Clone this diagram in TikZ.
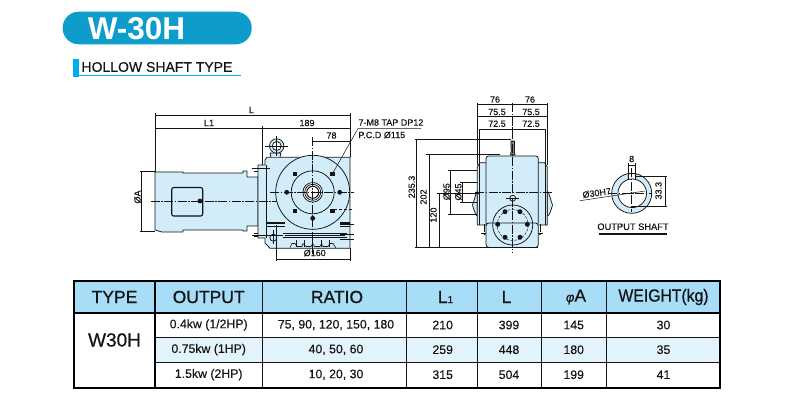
\documentclass[tikz,border=0pt]{standalone}
\usepackage{fontspec}
\setmainfont{Liberation Sans}
\newfontfamily\heavy[FakeBold=0.7]{Liberation Sans}
\newfontfamily\medium[FakeBold=0.25]{Liberation Sans}
\definecolor{pill}{HTML}{0E9DCB}
\definecolor{accent}{HTML}{00AEEF}
\definecolor{hdr}{HTML}{A8DDF7}
\definecolor{rowb}{HTML}{E2F3FC}
\definecolor{body}{HTML}{D2EDF9}
\definecolor{ink}{HTML}{141414}
\tikzset{
  x=1pt,y=-1pt,
  every node/.style={text=ink,inner sep=0pt,outer sep=0pt},
  obj/.style={draw=ink,line width=.75pt,fill=body,line join=round},
  objn/.style={draw=ink,line width=.75pt,line join=round},
  dimline/.style={draw=ink,line width=.5pt},
  centerl/.style={draw=ink,line width=.5pt,dash pattern=on 9pt off 1.5pt on 1.5pt off 1.5pt},
  dimtxt/.style={font=\medium\fontsize{9}{10}\selectfont},
  rdim/.style={font=\medium\fontsize{9}{10}\selectfont,rotate=90},
  hd/.style={font=\heavy\fontsize{17.5}{19}\selectfont},
  cell/.style={font=\medium\fontsize{12.3}{14}\selectfont},
  tline/.style={draw=ink,line width=.6pt},
  tthick/.style={draw=black,line width=1.6pt},
  blt/.style={fill=ink,draw=none},
}
\begin{document}
\begin{tikzpicture}
\useasboundingbox (0,0) rectangle (800,400);
\fill[white] (0,0) rectangle (800,400);
% title
\fill[pill,rounded corners=16pt] (62.7,11.7) rectangle (251.7,44.3);
\node[text=white,font=\fontsize{31.5}{33}\bfseries\selectfont,anchor=center] (title) at (136.5,28.5) {W-30H};
\fill[accent] (73.3,59) rectangle (79.3,76.7);
\draw[accent,line width=.6pt] (79.3,75.7) -- (240.7,75.7);
\node[font=\medium\fontsize{14}{15}\selectfont,anchor=west] (subtitle) at (81.5,67) {HOLLOW SHAFT TYPE};
%
% side view: motor
\draw[obj] (162,232) -- (155,230) -- (155,172) -- (183,172) -- (183,173) -- (243,173) -- (243,171) -- (247,171) -- (247,177) -- (258,177) -- (258,226) -- (247,226) -- (247,231) -- (243,231) -- (243,230) -- (183,230) -- (183,232) -- cycle;
\draw[obj,line width=1.1pt,rounded corners=2pt] (171.7,187.5) rectangle (202.7,216);
\fill[blt] (200,201) circle (2.4);
% side view: gearbox
\draw[obj] (265,160) -- (267,157.3) -- (350,157.3) -- (350,248.3) -- (270,248.3) -- (265,243) -- (265,238) -- (258,238) -- (258,165) -- (265,165) -- cycle;
\draw[objn] (266.7,165) -- (266.7,238);
\draw[objn] (258,168) -- (254,168) (258,171) -- (254,171) (258,233) -- (254,233) (258,236) -- (254,236);
\draw[obj] (271,157) -- (270,153) -- (281,153) -- (280,157);
\draw[obj] (276.7,146) circle (7.2);
\draw[obj,fill=white] (276.7,146) circle (4.5);
\draw[obj] (312.7,192.3) circle (37);
\draw[objn] (312.7,192.3) circle (21.5);
\draw[obj,fill=white] (312.7,192.3) circle (9.8);
\draw[objn] (312.7,192.3) circle (8);
\draw[objn,line width=1pt] (312.7,192.3) circle (6);
\foreach \bx/\by in {295/174,332.3/174,295/211,332.3/211}
  \fill[blt] (\bx-2.3,\by-2.3) rectangle (\bx+2.3,\by+2.3);
\foreach \bx/\by in {286.7/192.3,339.7/192.3,312.7/218.3}
  \fill[blt] (\bx,\by) circle (2.4);
% lower gearbox details
\draw[ink,line width=1.4pt] (267,223) -- (285,223) (340,223) -- (350,223);
\draw[ink,line width=.5pt] (267,226) -- (285,226) (340,226) -- (350,226);
\draw[ink,line width=.5pt] (283,233.3) -- (347,233.3);
\draw[ink,line width=1.3pt] (285,235.2) -- (345,235.2);
\draw[ink,line width=.5pt] (283,237) -- (347,237);
\draw[obj] (273.3,237.7) circle (3.5);
\draw[objn,line width=.6pt] (290,247.5) -- (292,243.5) -- (295,243.5) -- (297,246.5) -- (302,246.5) -- (303,243.5) -- (306,246.5) -- (311,246.5) -- (312.7,243.5) -- (314.5,246.5) -- (320,246.5) -- (321.5,243.5) -- (323,246.5) -- (328,246.5) -- (330,243.5) -- (333,243.5) -- (336,248);
\foreach \bx in {296,304.5,312.7,321,329.5}
  \draw[ink,line width=.5pt] (\bx,240) -- (\bx,246.5);
% side view: centre lines
\draw[centerl] (150.7,201) -- (277,201);
\draw[centerl] (312.7,137) -- (312.7,255);
\draw[centerl] (270,192.3) -- (354,192.3);
\draw[dimline,densely dashed] (334,209.3) -- (354,209.3);
\draw[dimline] (340,224) -- (354,224) (340,234.3) -- (354,234.3) (340,239) -- (354,239);
\draw[dimline] (265,146) -- (288,146) (276.7,136) -- (276.7,156);
\draw[dimline] (252,168.5) -- (270,168.5) (252,235) -- (283,235) (273.3,230) -- (273.3,244);
% side view: dimensions
\draw[dimline] (155,113) -- (155,172) (350,113) -- (350,157);
\draw[dimline] (155,115.7) -- (350,115.7);
\draw[dimline] (155,128.3) -- (350,128.3);
\draw[dimline] (262.5,126) -- (262.5,165);
\draw[dimline] (312.7,141.7) -- (350,141.7);
\draw[dimline] (140,171.7) -- (155,171.7) (140,231.7) -- (155,231.7);
\draw[dimline] (141.7,171.7) -- (141.7,231.7);
\draw[dimline] (276.7,225) -- (276.7,261) (350,248) -- (350,261);
\draw[dimline] (276.7,259.3) -- (350,259.3);
\coordinate (leadbolt) at (332.3,174);
\coordinate (leadknee) at (358,128.5);
\coordinate (leadend) at (421,128.5);
\draw[dimline] (leadbolt) -- (leadknee) -- (leadend);
\node[dimtxt] (tL) at (251.5,110) {L};
\node[dimtxt] (tLone) at (209,123) {L1};
\node[dimtxt] (t189) at (307,123) {189};
\node[dimtxt] (t78) at (331.5,135.5) {78};
\node[dimtxt,anchor=west] (ttap) at (358.5,122.5) {7-M8 TAP DP12};
\node[dimtxt,anchor=west] (tpcd) at (358.5,135) {P.C.D Ø115};
\node[rdim] (tA) at (137.5,197) {ØA};
\node[dimtxt] (t160) at (314.7,253) {Ø160};
%
% front view
\draw[obj] (472.5,205) .. controls (474.5,200) and (476,192) .. (477.3,191) -- (477.3,216) .. controls (476,216) and (474.5,212) .. (472.5,205) -- cycle;
\draw[obj] (552.5,205) .. controls (550.5,200) and (549,192) .. (547.3,191) -- (547.3,216) .. controls (549,216) and (550.5,212) .. (552.5,205) -- cycle;
\draw[obj] (486,162.7) -- (480,162.7) -- (477.3,167) -- (477.3,225) -- (547.3,225) -- (547.3,167) -- (544.5,162.7) -- (538.3,162.7) -- cycle;
\draw[obj,fill=black!50] (510.5,155) .. controls (512,150) and (510.5,145) .. (511,141) -- (514.5,141) .. controls (515,145) and (513.5,150) .. (515,155) -- cycle;
\draw[obj,rounded corners=2.5pt] (486,225) -- (486,156) -- (538.3,156) -- (538.3,225) -- cycle;
\draw[obj,rounded corners=3pt] (486,223) -- (486,247.5) -- (538.3,247.5) -- (538.3,223) -- cycle;
\draw[objn] (484,224) -- (484,232) (540,224) -- (540,232);
\draw[objn] (481,233) -- (486,233) (538.3,233) -- (543,233);
\fill[blt] (484.5,234) circle (1.2) (540,234) circle (1.2);
\draw[objn] (512.7,225) circle (20);
\draw[objn,line width=.5pt,dash pattern=on 2.5pt off 1.5pt] (512.7,225) circle (15.5);
\foreach \bx/\by in {505/211.7,520/211.7,497.7/224.3,527.3/224.3,505/237.3,520/237.3}
  \fill[blt] (\bx,\by) circle (2.5);
\draw[objn] (512.7,198.3) circle (3);
\draw[dimline] (506,198.3) -- (519,198.3);
\draw[centerl] (512.7,103) -- (512.7,252);
\draw[centerl] (475,192.3) -- (551.7,192.3);
% front view: dimensions
\draw[dimline] (477.3,103) -- (477.3,165) (547.3,103) -- (547.3,165);
\draw[dimline] (477.3,104.7) -- (547.3,104.7);
\draw[dimline] (477.3,116.7) -- (547.3,116.7);
\draw[dimline] (479.3,129) -- (545.3,129);
\draw[dimline] (479.3,129) -- (479.3,225) (545.3,129) -- (545.3,225);
\draw[dimline] (414.5,139.3) -- (511,139.3);
\draw[dimline] (426,154) -- (500,154);
\draw[dimline] (414.5,247.3) -- (538,247.3);
\draw[dimline] (437,193.3) -- (479,193.3);
\draw[dimline] (448,170) -- (477.3,170) (448,214) -- (477.3,214);
\draw[dimline] (460,182.7) -- (477.3,182.7) (460,202.3) -- (477.3,202.3);
\draw[dimline] (416.7,139.3) -- (416.7,247.3);
\draw[dimline] (429,154) -- (429,247.3);
\draw[dimline] (439.3,193.3) -- (439.3,247.3);
\draw[dimline] (450.7,170) -- (450.7,214);
\draw[dimline] (462.7,182.7) -- (462.7,202.3);
\node[dimtxt] (a76) at (495,99.5) {76};
\node[dimtxt] (b76) at (530,99.5) {76};
\node[dimtxt] (a755) at (497,112) {75.5};
\node[dimtxt] (b755) at (531,112) {75.5};
\node[dimtxt] (a725) at (497,123.7) {72.5};
\node[dimtxt] (b725) at (531,123.7) {72.5};
\node[rdim] (t235) at (411.7,187) {235.3};
\node[rdim] (t202) at (423.5,197) {202};
\node[rdim] (t120) at (433.5,215) {120};
\node[rdim] (t95) at (446.5,191.7) {Ø95};
\node[rdim] (t45) at (458.3,192) {Ø45};
%
% output shaft
\draw[obj] (631.7,193.3) circle (20);
\draw[objn,fill=white] (628.3,179.4) -- (628.3,173.8) -- (635.7,173.8) -- (635.7,179.4) arc (-76:-463.7:14.3) -- cycle;
\draw[dimline] (628.3,162.5) -- (628.3,180) (635.7,162.5) -- (635.7,180);
\draw[dimline] (628.3,165) -- (635.7,165);
\draw[centerl] (631.7,168) -- (631.7,212);
\draw[centerl] (608,193.3) -- (652,193.3);
\draw[dimline] (636,176.7) -- (667,176.7) (632,206.7) -- (667,206.7);
\draw[dimline] (665.7,176.7) -- (665.7,206.7);
\coordinate (shafta) at (580,200.7);
\coordinate (shaftb) at (645,191);
\draw[dimline] (shafta) -- (shaftb);
\node[dimtxt] (t8) at (631.7,159) {8};
\node[rdim] (t333) at (658.5,190.7) {33.3};
\node[dimtxt,rotate=8] (t30) at (596.7,193) {Ø30H7};
\node[font=\medium\fontsize{9.3}{10}\selectfont] (tshaft) at (633,226.7) {OUTPUT SHAFT};
\draw[ink,line width=1.3pt] (599.3,234) -- (666.7,234);
%
% table
\fill[hdr] (74,281) rectangle (720,312.7);
\fill[rowb] (155,337.3) rectangle (720,362.3);
\foreach \cx in {262.3,406.7,477.3,541.3,606.3}
  \draw[tline] (\cx,281) -- (\cx,387.7);
\draw[tline] (155,337.3) -- (720,337.3) (155,362.3) -- (720,362.3);
\draw[tthick] (155,281) -- (155,387.7);
\draw[tthick] (74,312.7) -- (720,312.7);
\draw[tthick] (74,281) rectangle (720,387.7);
\node[hd] (hA) at (114.5,297) {TYPE};
\node[hd] (hB) at (208.7,297) {OUTPUT};
\node[hd] (hC) at (337,297) {RATIO};
\node[hd] (hD) at (445.5,297) {L{\fontsize{10}{11}\selectfont 1}};
\node[hd] (hE) at (506.5,297) {L};
\node[hd] (hF) at (576,297) {{\fontsize{13}{14}\itshape\selectfont φ}A};
\node[hd,xscale=.9] (hG) at (663.5,297) {WEIGHT(kg)};
\node[font=\heavy\fontsize{19}{20}\selectfont] (w) at (114.5,340) {W30H};
\node[cell] (a1) at (208.7,325) {0.4kw (1/2HP)};
\node[cell] (b1) at (336,325) {75, 90, 120, 150, 180};
\node[cell] (c1) at (442.7,325) {210};
\node[cell] (d1) at (509,325) {399};
\node[cell] (e1) at (573.7,325) {145};
\node[cell] (f1) at (663.5,325) {30};
\node[cell] (a2) at (208.7,349.7) {0.75kw (1HP)};
\node[cell] (b2) at (336,349.7) {40, 50, 60};
\node[cell] (c2) at (442.7,349.7) {259};
\node[cell] (d2) at (509,349.7) {448};
\node[cell] (e2) at (573.7,349.7) {180};
\node[cell] (f2) at (663.5,349.7) {35};
\node[cell] (a3) at (208.7,374.7) {1.5kw (2HP)};
\node[cell] (b3) at (336,374.7) {10, 20, 30};
\node[cell] (c3) at (442.7,374.7) {315};
\node[cell] (d3) at (509,374.7) {504};
\node[cell] (e3) at (573.7,374.7) {199};
\node[cell] (f3) at (663.5,374.7) {41};
\end{tikzpicture}
\end{document}
